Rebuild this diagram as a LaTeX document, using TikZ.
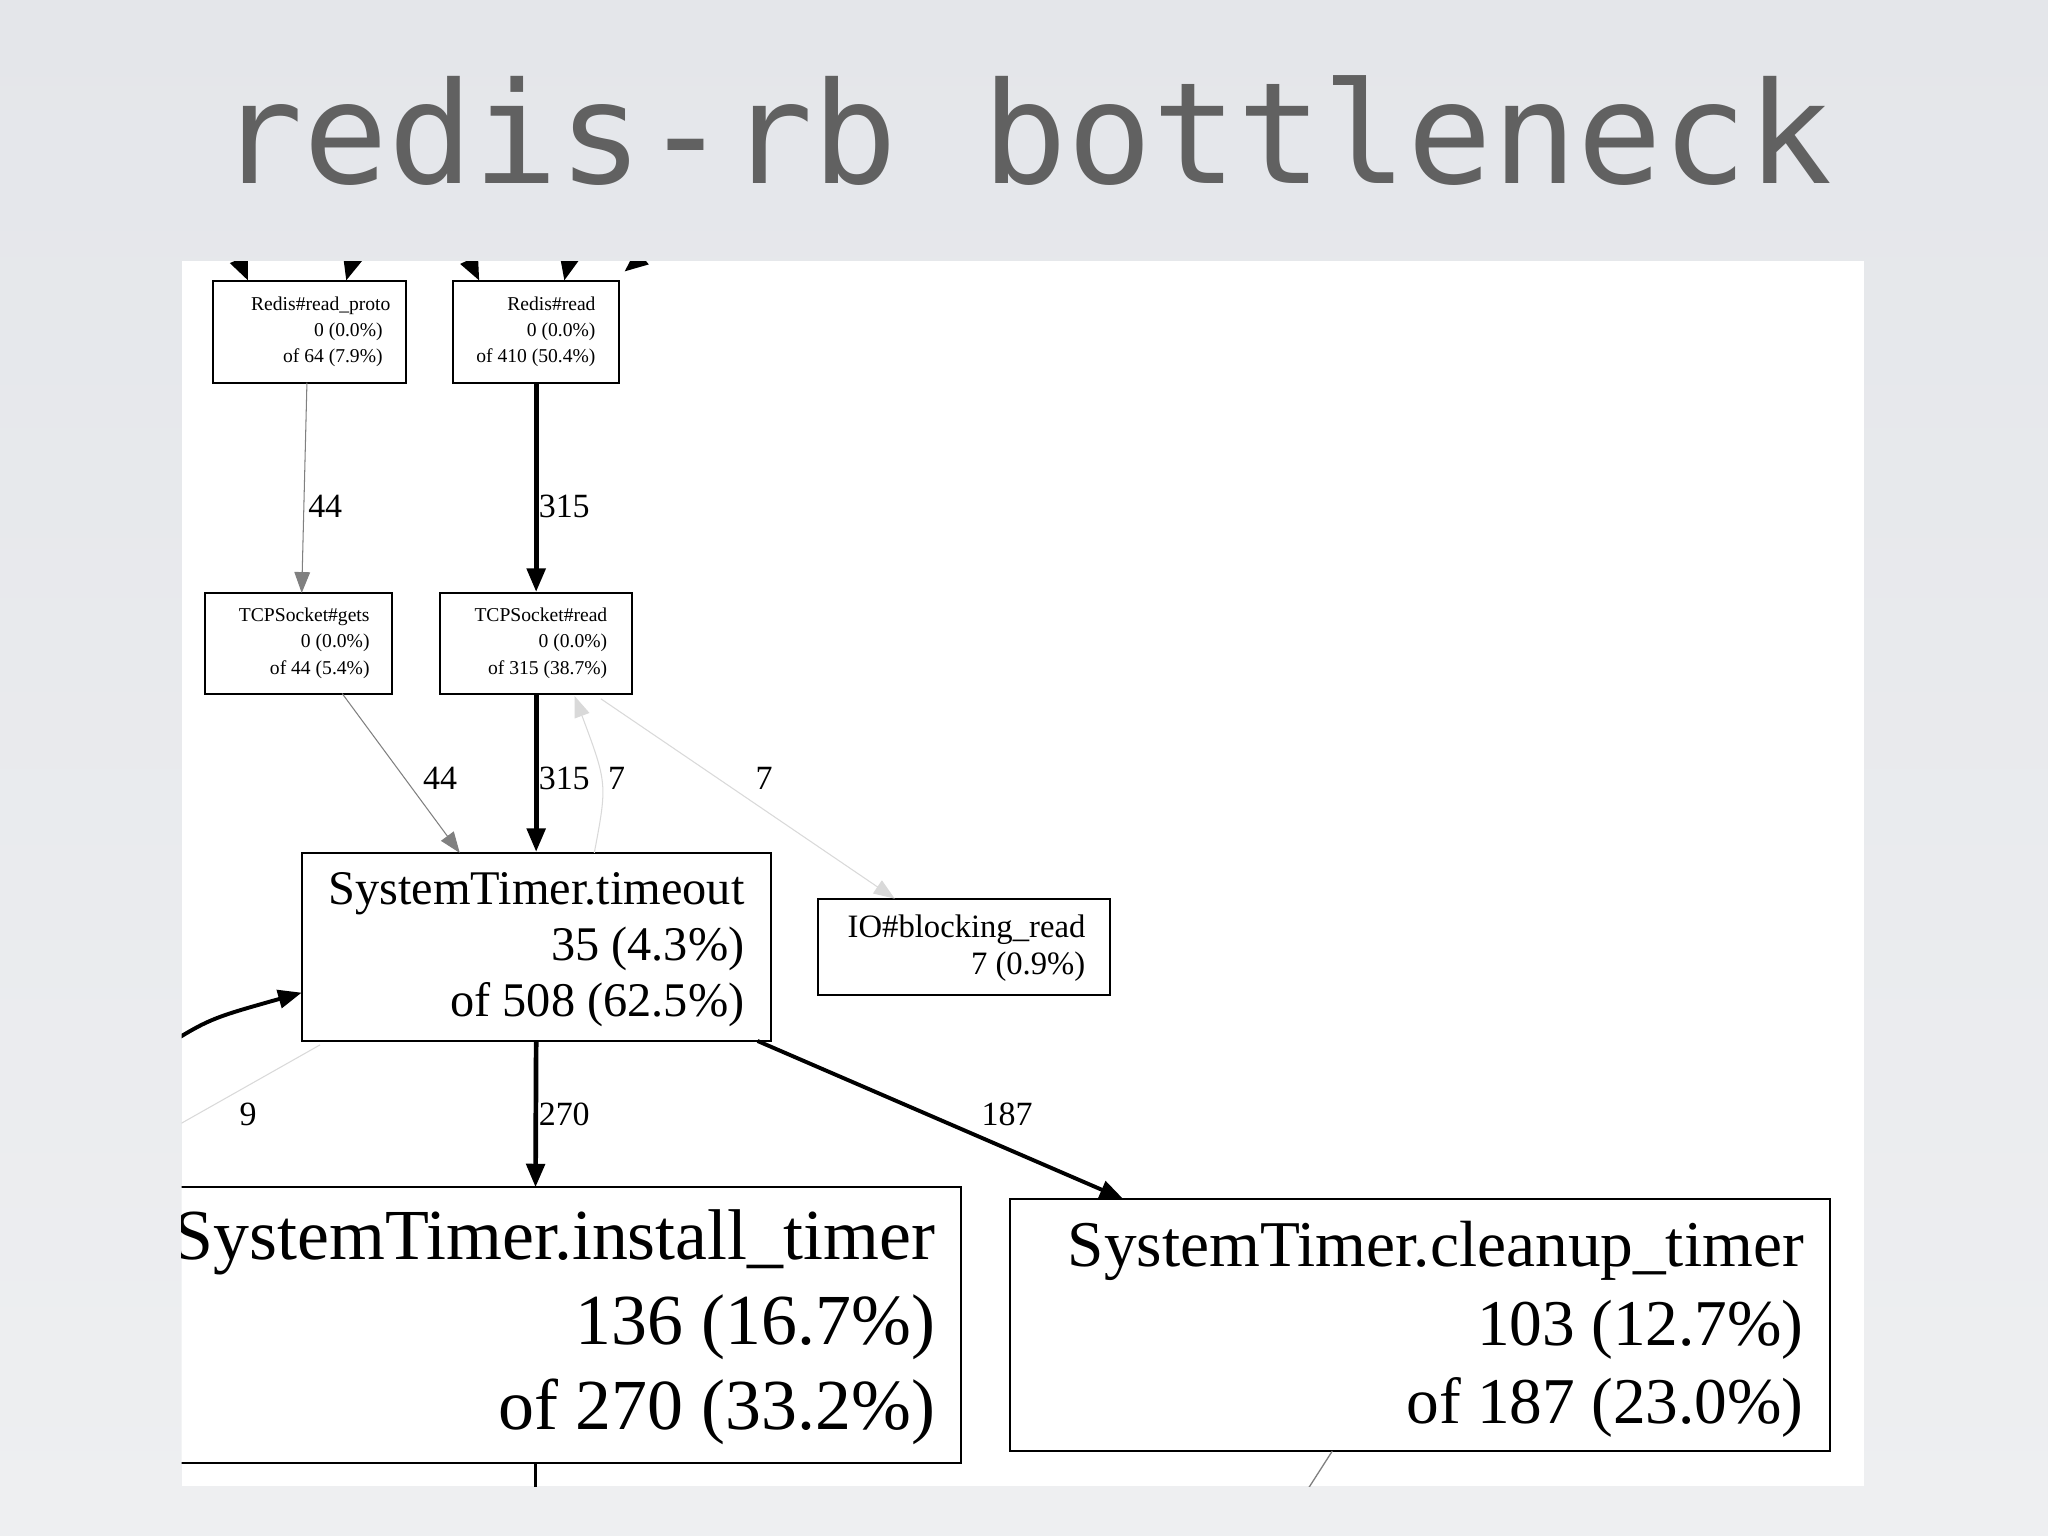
\documentclass[tikz,border=0pt]{standalone}
\usepackage{fontspec}
\setmainfont{Liberation Serif}
\newfontfamily\mono{DejaVu Sans Mono}
\usetikzlibrary{arrows.meta}
\definecolor{bgtop}{HTML}{E4E6EA}
\definecolor{bgbot}{HTML}{EEEFF1}
\begin{document}
\begin{tikzpicture}[x=0.5pt,y=-0.5pt,
 box/.style={draw,line width=0.8pt,inner sep=0,fill=white},
 thick1/.style={line width=1.8pt,-{Triangle[length=9pt,width=7pt]}},
 thin1/.style={line width=0.4pt,draw=gray,-{Triangle[length=8pt,width=6pt]}},
 faint/.style={line width=0.4pt,draw=gray!30,-{Triangle[length=8pt,width=6pt]}},
 lbl/.style={font=\fontsize{13}{15}\selectfont}]
\useasboundingbox (0,0) rectangle (1568,1176);
\fill[top color=bgtop,bottom color=bgbot] (0,0) rectangle (1568,1176);
\node[font=\mono\fontsize{54}{60}\selectfont,text=black!62] (title) at (785,100) {redis-rb bottleneck};
\fill[white] (139,200) rectangle (1427,1138);
\begin{scope}
\clip (139,200) rectangle (1427,1138);
% boxes
\node[box,minimum width=74pt,minimum height=39pt] (rp) at (237,254) {};
\node[align=right,font=\fontsize{7.5}{10}\selectfont,anchor=east] at (300,254) {\hbox to 0pt{\hss Redis\#read\_proto\hskip -3pt}\\0 (0.0\%)\\of 64 (7.9\%)};
\node[box,minimum width=63.5pt,minimum height=39pt] (rr) at (410.5,254) {};
\node[align=right,font=\fontsize{7.5}{10}\selectfont,anchor=east] at (463,254) {Redis\#read\hskip 8pt\\0 (0.0\%)\\of 410 (50.4\%)};
\node[box,minimum width=71.5pt,minimum height=38.5pt] (tg) at (228.5,492.5) {};
\node[align=right,font=\fontsize{7.5}{10}\selectfont,anchor=east] at (290,492.5) {TCPSocket\#gets\hskip 1pt\\0 (0.0\%)\\of 44 (5.4\%)};
\node[box,minimum width=73.5pt,minimum height=38.5pt] (tr) at (410.5,492.5) {};
\node[align=right,font=\fontsize{7.5}{10}\selectfont,anchor=east] at (472,492.5) {TCPSocket\#read\hskip 2pt\\0 (0.0\%)\\of 315 (38.7\%)};
\node[box,minimum width=179.5pt,minimum height=72pt] (to) at (410.5,725) {};
\node[align=right,font=\fontsize{18.5}{21.5}\selectfont,anchor=east] at (577,727) {SystemTimer.timeout\\35 (4.3\%)\\of 508 (62.5\%)};
\node[box,minimum width=112pt,minimum height=37pt] (io) at (738,725) {};
\node[align=right,font=\fontsize{12.5}{14}\selectfont,anchor=east] at (838,726) {IO\#blocking\_read\\7 (0.9\%)};
\node[box,minimum width=316pt,minimum height=105.5pt] (it) at (420,1014.5) {};
\node[align=right,font=\fontsize{27.5}{32.5}\selectfont,anchor=east] at (723,1016) {SystemTimer.install\_timer\\136 (16.7\%)\\of 270 (33.2\%)};
\node[box,minimum width=314pt,minimum height=96.5pt] (ct) at (1087,1014.5) {};
\node[align=right,font=\fontsize{25}{30}\selectfont,anchor=east] at (1388,1018) {SystemTimer.cleanup\_timer\\103 (12.7\%)\\of 187 (23.0\%)};
% incoming top
\coordinate (a1) at (175,180); \coordinate (a2) at (275,180);
\coordinate (a3) at (350,180); \coordinate (a4) at (440,180); \coordinate (a5) at (500,190);
\draw[thick1] (a1) -- (190,215);
\draw[thick1] (a2) -- (265,215);
\draw[thick1] (a3) -- (367,215);
\draw[thick1] (a4) -- (432,215);
\draw[thick1] (a5) -- (478,208);
% edges
\draw[thin1] (235,293) -- (231,454); \node[lbl] at (249,388) {44};
\draw[thick1] (rr.south) -- (tr.north); \node[lbl] at (432,388) {315};
\draw[thin1] (262,531) -- (352,653); \node[lbl] at (337,596) {44};
\draw[thick1] (tr.south) -- (to.north); \node[lbl] at (432,596) {315}; \node[lbl] at (472,596) {7};
\draw[faint] (455,653) .. controls (465,600) .. (440,533);
\draw[faint] (460,535) -- (685,688); \node[lbl] at (585,596) {7};
\draw[thick1] (to.south) -- (410,909); \node[lbl] at (432,853) {270};
\draw[line width=1.5pt,-{Triangle[length=9pt,width=7pt]}] (580,797) -- (860,918); \node[lbl] at (771,853) {187};
\coordinate (l1) at (120,805);
\draw[line width=1.5pt,-{Triangle[length=9pt,width=7pt]}] (l1) .. controls (160,780) .. (231,760);
\draw[gray!30,line width=0.4pt] (130,865) -- (245,800); \node[lbl] at (190,853) {9};
\coordinate (b1) at (410,1150); \coordinate (b2) at (995,1150);
\draw[line width=0.8pt] (410,1120) -- (b1);
\draw[line width=0.5pt,gray] (1020,1111) -- (b2);
\end{scope}
\end{tikzpicture}
\end{document}
